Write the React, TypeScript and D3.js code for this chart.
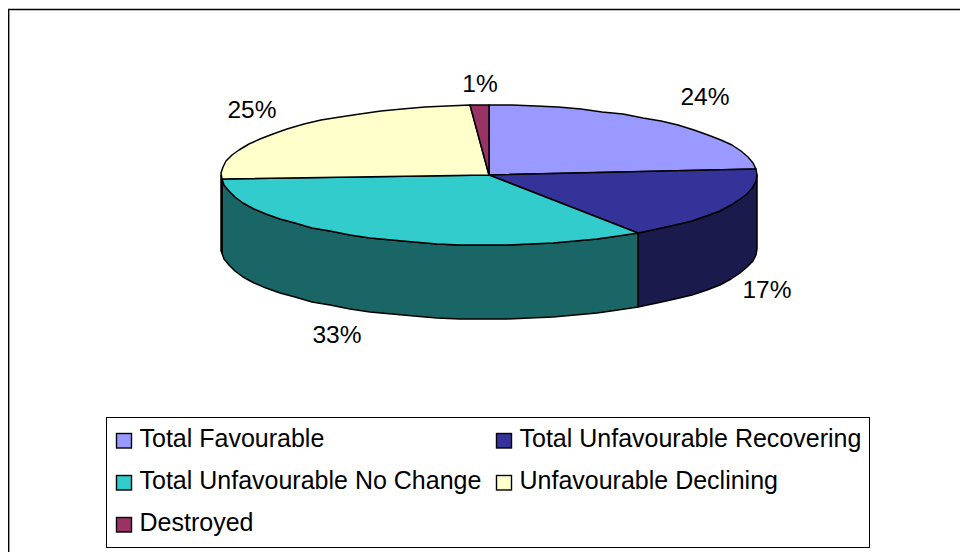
import React from 'react';
import * as d3 from 'd3';

// shares of the pie, clockwise from 12 o'clock
const categories = [
    'Total Favourable',
    'Total Unfavourable Recovering',
    'Total Unfavourable No Change',
    'Unfavourable Declining',
    'Destroyed',
];
const values = [23.6, 17, 33.4, 24.9, 1.1];
const pctLabels = ['24%', '17%', '33%', '25%', '1%'];
const topColors = ['#9999ff', '#333399', '#33cccc', '#ffffcc', '#993366'];
const sideColors = ['#4c4c80', '#1a1a4c', '#1a6666', '#808066', '#4c1a33'];

const FONT = '"Liberation Sans", Arial, sans-serif';
const cx = 489;
const cy = 175;
const rx = 268;
const ry = 70;
const depth = 74;

const pieGen = d3.pie<number>().sort(null).value(d => d);
const slices = pieGen(values);

// projected ellipse point for a pie angle (0 = up, clockwise)
const px = (a: number) => Math.round(cx + rx * Math.sin(a));
const py = (a: number, dy = 0) => Math.round(cy - ry * Math.cos(a) + dy);

const rimAngles = (a0: number, a1: number) => {
    const n = Math.max(2, Math.ceil((a1 - a0) / 0.09));
    return d3.range(n + 1).map(i => a0 + ((a1 - a0) * i) / n);
};

const line = d3.line<[number, number]>();

const topPath = (a0: number, a1: number) => {
    const rim = rimAngles(a0, a1).map(a => [px(a), py(a)] as [number, number]);
    return line([[cx, cy], ...rim]) + 'Z';
};

// side wall only exists on the front half of the ellipse
const sidePath = (a0: number, a1: number) => {
    const start = Math.max(a0, Math.PI / 2);
    const end = Math.min(a1, (3 * Math.PI) / 2);
    if (end <= start) return null;
    const rim = rimAngles(start, end);
    const upper = rim.map(a => [px(a), py(a)] as [number, number]);
    const lower = rim.slice().reverse().map(a => [px(a), py(a, depth)] as [number, number]);
    return line([...upper, ...lower]) + 'Z';
};

// where the percentage labels sit, as offsets from the pie centre
const labelPos = [
    [216, -70],
    [278, 123],
    [-152, 168],
    [-237, -57],
    [-9, -83],
];

const legendRows = [
    [0, 1],
    [2, 3],
    [4],
];
const legendColX = [116.5, 496.5];
const legendRowY = d3.scalePoint<number>().domain([0, 1, 2]).range([438, 522]);

export default function App() {
    return (
        <svg
            width={960}
            height={552}
            style={{ position: 'absolute', left: 0, top: 0, background: '#fff' }}
            fontFamily={FONT}
        >
            {/* frame is cut off by the image on the right and bottom */}
            <line x1={9.5} y1={10.5} x2={9.5} y2={552} stroke="#999" strokeWidth={1} />
            <line x1={8.5} y1={9} x2={8.5} y2={552} stroke="#000" strokeWidth={1} />
            <line x1={8} y1={9.5} x2={960} y2={9.5} stroke="#000" strokeWidth={1.4} />

            <g stroke="#000" strokeWidth={1.5} strokeLinejoin="round">
                {slices.map((s, i) => {
                    const d = sidePath(s.startAngle, s.endAngle);
                    return d ? <path key={i} d={d} fill={sideColors[i]} /> : null;
                })}
                {slices.map((s, i) => (
                    <path key={i} d={topPath(s.startAngle, s.endAngle)} fill={topColors[i]} />
                ))}
            </g>

            <g fontSize={24.5} fill="#000">
                {pctLabels.map((t, i) => (
                    <text key={t} x={cx + labelPos[i][0]} y={cy + labelPos[i][1]} textAnchor="middle">
                        {t}
                    </text>
                ))}
            </g>

            <rect x={106.5} y={417.5} width={763} height={130} fill="#fff" stroke="#000" strokeWidth={1} />
            {legendRows.map((row, r) =>
                row.map((c, k) => (
                    <g key={c}>
                        <rect
                            x={legendColX[k]}
                            y={legendRowY(r)! - 4.5}
                            width={15}
                            height={14.5}
                            fill={topColors[c]}
                            stroke="#000"
                            strokeWidth={1.4}
                        />
                        <text x={legendColX[k] + 23} y={legendRowY(r)! + 9} fontSize={25} fill="#000">
                            {categories[c]}
                        </text>
                    </g>
                ))
            )}
        </svg>
    );
}
